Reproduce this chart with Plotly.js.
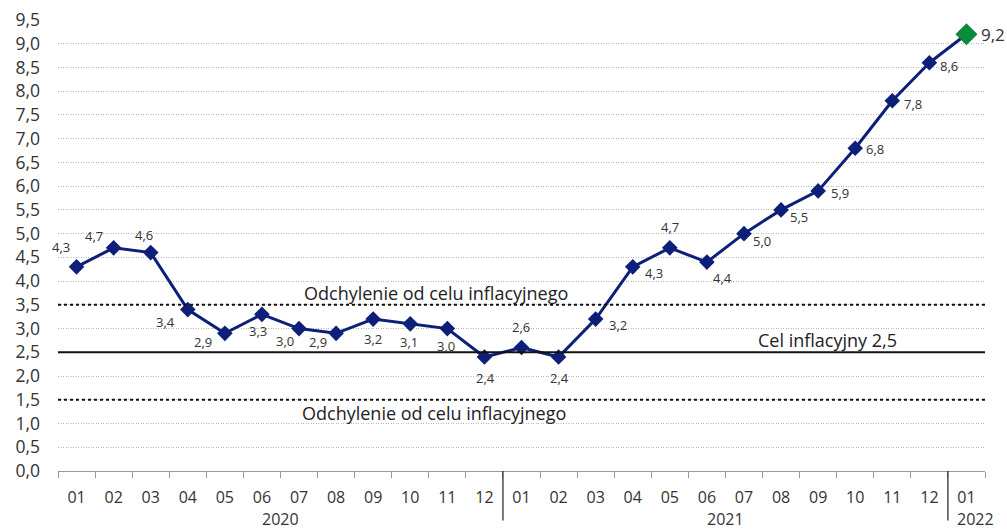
<!DOCTYPE html>
<html><head><meta charset="utf-8">
<script src="https://cdn.plot.ly/plotly-3.0.1.min.js"></script>
<style>html,body{margin:0;padding:0;background:#fff}#c{width:1007px;height:530px}</style>
</head><body><div id="c"></div>
<script>
const months = ["01","02","03","04","05","06","07","08","09","10","11","12","01","02","03","04","05","06","07","08","09","10","11","12","01"];
const years = ["2020","2021","2022"];
const cpi = [4.3,4.7,4.6,3.4,2.9,3.3,3.0,2.9,3.2,3.1,3.0,2.4,2.6,2.4,3.2,4.3,4.7,4.4,5.0,5.5,5.9,6.8,7.8,8.6,9.2];
const target = 2.5, bandHigh = 3.5, bandLow = 1.5;
const bandLabel = "Odchylenie od celu inflacyjnego";
const targetLabel = "Cel inflacyjny 2,5";

// label offsets (px) relative to each point: styling only
const offs = [[-16,20],[-20,12],[-7,18],[-22,-12],[-22,-9],[-4,-17],[-14,-12],[-18,-9],[0,-20],[-1,-18],[-1,-17],[1,-21],[-1,21],[1,-21],[22,-6],[21,-6],[0,21],[16,-16],[18,-7],[18,-7],[22,-2],[20,-1],[21,-3],[20,-3],[27,0]];

const xs = cpi.map((_, i) => i);
const fmt = v => v.toFixed(1).replace('.', ',');
const navy = '#0d1f78';
const FF = '"Open Sans", sans-serif';

const main = {
  x: xs.slice(0, 24), y: cpi.slice(0, 24), type: 'scatter', mode: 'lines+markers',
  line: {color: navy, width: 3},
  marker: {symbol: 'diamond', size: 12, color: navy},
  hoverinfo: 'skip', showlegend: false
};
const lastSeg = {
  x: xs.slice(23), y: cpi.slice(23), type: 'scatter', mode: 'lines',
  line: {color: navy, width: 3}, hoverinfo: 'skip', showlegend: false
};
const lastPt = {
  x: [xs[24]], y: [cpi[24]], type: 'scatter', mode: 'markers',
  marker: {symbol: 'diamond', size: 17, color: '#0a8a3c'}, hoverinfo: 'skip', showlegend: false
};

const annotations = cpi.map((v, i) => ({
  x: i, y: v, xref: 'x', yref: 'y', text: fmt(v), showarrow: false,
  xshift: offs[i][0], yshift: offs[i][1],
  font: {family: FF, size: i === 24 ? 17 : 13, color: '#333'}
}));
annotations.push(
  {x: 9.7, y: bandHigh, xref: 'x', yref: 'y', text: bandLabel, showarrow: false, yshift: 12,
   font: {family: FF, size: 18, color: '#222'}},
  {x: 9.65, y: bandLow, xref: 'x', yref: 'y', text: bandLabel, showarrow: false, yshift: -13,
   font: {family: FF, size: 18, color: '#222'}},
  {x: 20.25, y: target, xref: 'x', yref: 'y', text: targetLabel, showarrow: false, yshift: 12,
   font: {family: FF, size: 18, color: '#222'}},
  {x: 5.5, y: 0, xref: 'x', yref: 'paper', yanchor: 'middle', text: years[0], showarrow: false, yshift: -48,
   font: {family: FF, size: 16, color: '#333'}},
  {x: 17.5, y: 0, xref: 'x', yref: 'paper', yanchor: 'middle', text: years[1], showarrow: false, yshift: -48,
   font: {family: FF, size: 16, color: '#333'}},
  {x: 24, y: 0, xref: 'x', yref: 'paper', yanchor: 'middle', text: years[2], showarrow: false, yshift: -48, xshift: 9,
   font: {family: FF, size: 16, color: '#333'}}
);

const shapes = [
  {type: 'line', xref: 'paper', x0: 0, x1: 1, yref: 'y', y0: bandHigh, y1: bandHigh, line: {color: '#111', width: 2, dash: 'dot'}},
  {type: 'line', xref: 'paper', x0: 0, x1: 1, yref: 'y', y0: bandLow, y1: bandLow, line: {color: '#111', width: 2, dash: 'dot'}},
  {type: 'line', xref: 'paper', x0: 0, x1: 1, yref: 'y', y0: target, y1: target, line: {color: '#111', width: 2}},
  {type: 'line', xref: 'x', x0: 11.5, x1: 11.5, yref: 'paper', y0: 0, y1: -0.11, line: {color: '#222', width: 1.2}},
  {type: 'line', xref: 'x', x0: 23.5, x1: 23.5, yref: 'paper', y0: 0, y1: -0.11, line: {color: '#222', width: 1.2}}
];

const layout = {
  width: 1007, height: 530,
  margin: {l: 58, r: 22, t: 20, b: 59},
  paper_bgcolor: '#fff', plot_bgcolor: '#fff',
  font: {family: FF, color: '#333'},
  xaxis: {
    range: [-0.5, 24.5], tickvals: xs, ticktext: months,
    showgrid: false, zeroline: false, showline: true, linecolor: '#999', linewidth: 1,
    ticks: '', tickfont: {size: 16, color: '#333'}, ticklabelstandoff: 12,
    minor: {tickvals: xs.map(i => i - 0.5).concat([24.5]), ticks: 'outside', ticklen: 6, tickcolor: '#999', showgrid: false}
  },
  yaxis: {
    range: [0, 9.5], dtick: 0.5, tick0: 0, tickformat: '.1f',
    showgrid: true, gridcolor: '#b8b8b8', gridwidth: 1, griddash: '1px,1.5px',
    zeroline: false, showline: false, ticks: '', tickfont: {size: 17.5, color: '#333'}, ticklabelstandoff: 17
  },
  separators: ', ',
  shapes: shapes, annotations: annotations, showlegend: false
};

Plotly.newPlot('c', [main, lastSeg, lastPt], layout, {staticPlot: true});
</script></body></html>
